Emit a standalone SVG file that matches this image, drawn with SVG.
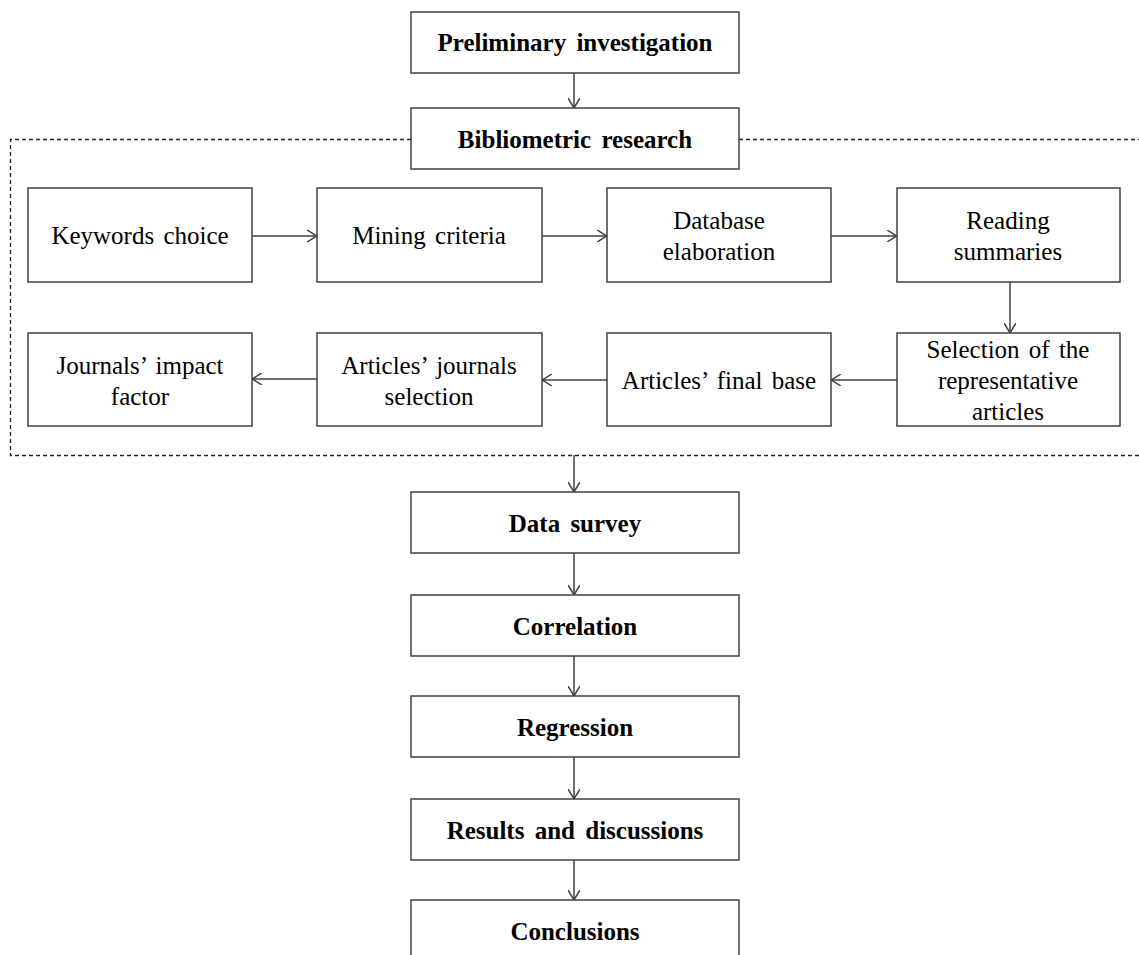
<svg xmlns="http://www.w3.org/2000/svg" width="1139" height="955" viewBox="0 0 1139 955">
<style>
.box{fill:#fff;stroke:#404040;stroke-width:1.5}
.b{font-family:"Liberation Serif","Times New Roman",serif;font-weight:bold;font-size:25px;fill:#000;text-anchor:middle;word-spacing:4px}
.r{font-family:"Liberation Serif","Times New Roman",serif;font-size:25px;fill:#000;text-anchor:middle;word-spacing:3px}
.c{stroke:#404040;stroke-width:1.5;fill:none}
</style>
<defs>
<marker id="ah" viewBox="0 0 10 12" refX="10" refY="6" markerWidth="10" markerHeight="12" markerUnits="userSpaceOnUse" orient="auto">
<path d="M0,0 L10,6 L0,12" fill="none" stroke="#404040" stroke-width="1.5"/>
</marker>
</defs>
<rect width="1139" height="955" fill="#fff"/>
<g id="container">
<path d="M411,139.5 H10.5 V455.5 H1139 M739,139.5 H1139" fill="none" stroke="#222" stroke-width="1.3" stroke-dasharray="4,3"/>
</g>
<g id="connectors">
<line class="c" x1="574" y1="73" x2="574" y2="108" marker-end="url(#ah)"/>
<line class="c" x1="252" y1="236" x2="317" y2="236" marker-end="url(#ah)"/>
<line class="c" x1="542" y1="236" x2="607" y2="236" marker-end="url(#ah)"/>
<line class="c" x1="831" y1="236" x2="897" y2="236" marker-end="url(#ah)"/>
<line class="c" x1="1010" y1="282" x2="1010" y2="333" marker-end="url(#ah)"/>
<line class="c" x1="897" y1="380" x2="831" y2="380" marker-end="url(#ah)"/>
<line class="c" x1="607" y1="380" x2="542" y2="380" marker-end="url(#ah)"/>
<line class="c" x1="317" y1="379" x2="252" y2="379" marker-end="url(#ah)"/>
<line class="c" x1="574" y1="455" x2="574" y2="492" marker-end="url(#ah)"/>
<line class="c" x1="574" y1="553" x2="574" y2="595" marker-end="url(#ah)"/>
<line class="c" x1="574" y1="656" x2="574" y2="696" marker-end="url(#ah)"/>
<line class="c" x1="574" y1="757" x2="574" y2="799" marker-end="url(#ah)"/>
<line class="c" x1="574" y1="860" x2="574" y2="900" marker-end="url(#ah)"/>
</g>
<g id="n-preliminary"><rect class="box" x="411" y="12" width="328" height="61"/><text class="b" x="575" y="51">Preliminary investigation</text></g>
<g id="n-bibliometric"><rect class="box" x="411" y="108" width="328" height="61"/><text class="b" x="575" y="148">Bibliometric research</text></g>
<g id="n-keywords"><rect class="box" x="28" y="188" width="224" height="94"/><text class="r" x="140" y="244">Keywords choice</text></g>
<g id="n-mining"><rect class="box" x="317" y="188" width="225" height="94"/><text class="r" x="429" y="244">Mining criteria</text></g>
<g id="n-database"><rect class="box" x="607" y="188" width="224" height="94"/><text class="r" x="719" y="229">Database</text><text class="r" x="719" y="260">elaboration</text></g>
<g id="n-reading"><rect class="box" x="897" y="188" width="223" height="94"/><text class="r" x="1008" y="229">Reading</text><text class="r" x="1008" y="260">summaries</text></g>
<g id="n-selection"><rect class="box" x="897" y="333" width="223" height="93"/><text class="r" x="1008" y="358">Selection of the</text><text class="r" x="1008" y="389">representative</text><text class="r" x="1008" y="420">articles</text></g>
<g id="n-finalbase"><rect class="box" x="607" y="333" width="224" height="93"/><text class="r" x="719" y="389">Articles’ final base</text></g>
<g id="n-journalsel"><rect class="box" x="317" y="333" width="225" height="93"/><text class="r" x="429" y="374">Articles’ journals</text><text class="r" x="429" y="405">selection</text></g>
<g id="n-impact"><rect class="box" x="28" y="333" width="224" height="93"/><text class="r" x="140" y="374">Journals’ impact</text><text class="r" x="140" y="405">factor</text></g>
<g id="n-datasurvey"><rect class="box" x="411" y="492" width="328" height="61"/><text class="b" x="575" y="532">Data survey</text></g>
<g id="n-correlation"><rect class="box" x="411" y="595" width="328" height="61"/><text class="b" x="575" y="635">Correlation</text></g>
<g id="n-regression"><rect class="box" x="411" y="696" width="328" height="61"/><text class="b" x="575" y="736">Regression</text></g>
<g id="n-results"><rect class="box" x="411" y="799" width="328" height="61"/><text class="b" x="575" y="839">Results and discussions</text></g>
<g id="n-conclusions"><rect class="box" x="411" y="900" width="328" height="70"/><text class="b" x="575" y="940">Conclusions</text></g>
</svg>
